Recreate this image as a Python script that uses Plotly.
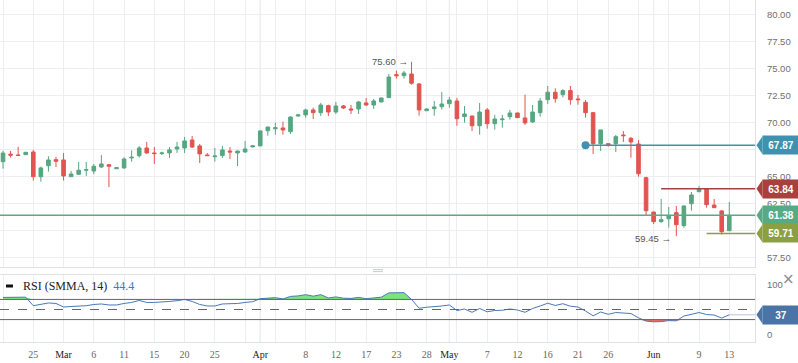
import plotly.graph_objects as go

dates = ["2019-02-20","2019-02-21","2019-02-22","2019-02-24","2019-02-25","2019-02-26","2019-02-27","2019-02-28",
         "2019-03-01","2019-03-03","2019-03-04","2019-03-05","2019-03-06","2019-03-07","2019-03-08","2019-03-10",
         "2019-03-11","2019-03-12","2019-03-13","2019-03-14","2019-03-15","2019-03-17","2019-03-18","2019-03-19",
         "2019-03-20","2019-03-21","2019-03-22","2019-03-24","2019-03-25","2019-03-26","2019-03-27","2019-03-28",
         "2019-03-29","2019-03-31","2019-04-01","2019-04-02","2019-04-03","2019-04-04","2019-04-05","2019-04-07",
         "2019-04-08","2019-04-09","2019-04-10","2019-04-11","2019-04-12","2019-04-14","2019-04-15","2019-04-16",
         "2019-04-17","2019-04-18","2019-04-21","2019-04-22","2019-04-23","2019-04-24","2019-04-25","2019-04-26",
         "2019-04-28","2019-04-29","2019-04-30","2019-05-01","2019-05-02","2019-05-03","2019-05-05","2019-05-06",
         "2019-05-07","2019-05-08","2019-05-09","2019-05-10","2019-05-12","2019-05-13","2019-05-14","2019-05-15",
         "2019-05-16","2019-05-17","2019-05-19","2019-05-20","2019-05-21","2019-05-22","2019-05-23","2019-05-24",
         "2019-05-26","2019-05-27","2019-05-28","2019-05-29","2019-05-30","2019-05-31","2019-06-02","2019-06-03",
         "2019-06-04","2019-06-05","2019-06-06","2019-06-07","2019-06-09","2019-06-10","2019-06-11","2019-06-12",
         "2019-06-13"]

open_ = [66.35,67.05,66.98,67.00,67.25,64.96,65.98,66.54,66.51,64.96,65.19,65.56,65.49,65.86,66.07,65.70,
         65.77,66.70,66.91,67.62,67.16,67.10,67.16,67.53,67.62,68.36,67.81,66.97,66.81,66.91,67.34,67.16,
         67.25,67.72,67.81,69.22,69.40,69.47,69.13,70.58,70.68,71.14,70.89,71.54,70.95,71.51,71.23,71.23,
         71.79,71.60,71.88,72.28,74.41,74.31,74.47,73.55,71.07,71.26,71.44,71.72,71.97,70.52,70.58,69.68,
         71.14,69.87,70.24,70.52,70.86,70.40,70.03,70.89,72.09,72.78,72.56,72.93,72.16,71.85,70.89,68.02,
         68.02,68.02,68.82,68.52,67.99,64.87,61.69,60.80,61.07,61.63,60.43,62.46,63.57,63.85,62.34,61.79,
         59.96]
high = [67.35,67.35,67.72,67.25,67.44,65.90,66.85,66.80,67.16,65.49,66.33,66.33,66.14,66.97,66.11,65.83,
        66.76,67.40,67.81,68.18,67.71,67.28,67.71,68.18,68.64,68.73,67.99,67.16,67.62,67.81,67.71,67.36,
        68.27,67.90,69.22,69.58,69.96,70.06,70.52,70.77,71.26,71.35,71.79,71.63,71.88,71.60,71.60,71.97,
        72.25,72.16,72.27,74.47,74.78,74.75,75.60,73.61,71.30,71.97,72.80,72.34,72.25,71.51,70.60,71.79,
        71.32,70.68,70.68,71.14,70.88,72.56,71.60,72.25,73.36,73.15,73.06,73.36,72.53,72.06,70.95,69.30,
        68.03,68.82,69.19,68.64,68.36,64.96,61.72,62.90,62.16,62.25,62.30,63.55,64.10,63.87,62.90,61.88,
        62.62]
low = [65.70,66.72,66.90,66.98,64.60,64.50,65.43,65.86,64.60,64.96,65.12,65.03,65.19,65.77,64.00,65.68,
       65.70,66.35,66.72,67.07,66.14,66.97,66.70,67.16,67.16,67.62,66.23,66.88,66.35,66.70,66.60,65.95,
       67.16,67.68,67.80,68.76,68.85,68.85,68.92,70.52,70.43,70.30,70.58,70.58,70.77,71.23,70.77,70.77,
       71.51,71.23,71.86,72.25,74.04,74.04,73.48,70.61,71.05,70.61,71.17,71.35,69.68,69.96,69.19,68.85,
       69.41,69.31,69.50,70.24,70.41,69.75,69.94,70.52,71.69,71.81,72.31,71.63,71.63,70.43,67.06,67.34,
       67.74,67.25,68.18,66.72,64.96,61.42,60.58,60.70,60.24,59.45,60.24,61.81,63.55,62.09,62.07,59.60,
       59.95]
close = [67.15,66.95,66.92,67.22,64.96,65.77,66.51,66.39,65.03,65.21,65.56,65.62,65.93,66.14,65.93,65.80,
         66.60,66.76,67.62,67.16,67.10,67.16,67.44,67.71,68.27,67.71,67.07,66.91,66.88,67.44,67.25,67.34,
         67.53,67.81,69.20,69.56,69.50,69.29,70.49,70.68,71.14,70.89,71.60,70.95,71.51,71.32,71.14,71.88,
         71.60,71.97,72.25,74.19,74.31,74.56,73.61,71.14,71.23,71.42,71.69,72.06,70.33,70.77,69.68,70.95,
         69.87,70.30,70.30,70.86,70.43,69.94,70.95,71.97,72.78,72.19,72.93,72.09,72.09,70.89,68.02,69.29,
         67.90,68.67,68.76,68.18,65.24,61.81,60.80,60.98,61.35,60.52,62.25,63.27,63.85,62.37,62.09,59.87,
         61.38]
rsi = [74.0,74.0,74.0,74.5,57.5,61.0,63.0,62.0,55.0,56.0,57.0,57.5,60.0,61.0,59.0,59.0,
       62.0,64.0,68.0,64.0,64.0,64.5,66.0,67.5,70.0,66.0,60.0,57.0,57.0,61.0,61.0,62.0,
       64.0,65.5,71.5,73.0,73.5,71.0,76.0,77.0,79.5,76.5,79.5,73.0,75.0,72.5,72.0,74.0,
       71.5,73.0,74.5,83.0,83.0,83.5,70.0,52.5,54.5,55.5,57.0,59.0,48.0,51.0,44.5,52.0,
       45.5,48.0,48.5,51.0,49.0,44.5,52.0,57.0,62.5,58.0,61.5,56.5,55.0,47.0,37.5,45.0,
       40.5,44.0,43.5,42.0,33.5,27.0,25.5,26.0,28.0,27.5,37.0,41.0,44.0,40.0,39.0,33.0,
       39.5]

tick_dates = ["2019-02-20","2019-02-25","2019-03-01","2019-03-06","2019-03-11","2019-03-15","2019-03-20",
              "2019-03-25","2019-03-29","2019-04-01","2019-04-03","2019-04-08","2019-04-12","2019-04-17",
              "2019-04-23","2019-04-28","2019-05-01","2019-05-02","2019-05-07","2019-05-12","2019-05-16",
              "2019-05-21","2019-05-26","2019-05-30","2019-06-02","2019-06-04","2019-06-09","2019-06-13"]
tick_labels = ["","25","Mar","6","11","15","20","25","","Apr","","8","12","17","23","28","May","","7","12",
               "16","21","26","","Jun","","9","13"]
month_dates = ["2019-03-01","2019-04-01","2019-05-01","2019-06-02"]

price_ticks = [57.5, 60, 62.5, 65, 67.5, 70, 72.5, 75, 77.5, 80]
price_tick_labels = ["57.50", "", "62.50", "65.00", "", "70.00", "72.50", "75.00", "77.50", "80.00"]

level_values = [67.87, 63.84, close[-1], 59.71]
level_labels = ["67.87", "63.84", "61.38", "59.71"]
level_start = ["2019-05-22", "2019-06-03", None, "2019-06-10"]
level_colors = ["#3f92ad", "#a8403e", "#5aa985", "#8c9f43"]
rsi_label = "37"
rsi_title_value = "44.4"

UP = "#56a680"
DOWN = "#e25450"
GRID = "#eceef1"
MONTH = "#d7dadd"
BORDER = "#dfe2e5"

n = len(dates)
x = list(range(n))
pos = {d: i for i, d in enumerate(dates)}
XMIN, XMAX = -0.40, 99.4
MAIN_DOM = [0.2193, 1.0]
RSI_DOM = [0.0, 0.1959]

fig = go.Figure()

# RSI fills
fig.add_trace(go.Scatter(x=x, y=[70] * n, mode="lines", line=dict(width=0), xaxis="x2", yaxis="y2",
                         hoverinfo="skip", showlegend=False))
fig.add_trace(go.Scatter(x=x, y=[max(v, 70) for v in rsi], mode="lines", line=dict(width=0),
                         fill="tonexty", fillcolor="#7fe27f", xaxis="x2", yaxis="y2",
                         hoverinfo="skip", showlegend=False))
fig.add_trace(go.Scatter(x=x, y=[30] * n, mode="lines", line=dict(width=0), xaxis="x2", yaxis="y2",
                         hoverinfo="skip", showlegend=False))
fig.add_trace(go.Scatter(x=x, y=[min(v, 30) for v in rsi], mode="lines", line=dict(width=0),
                         fill="tonexty", fillcolor="#ee6a66", xaxis="x2", yaxis="y2",
                         hoverinfo="skip", showlegend=False))
# RSI extension
fig.add_trace(go.Scatter(x=[x[-1], XMAX], y=[rsi[-1], rsi[-1]], mode="lines",
                         line=dict(color="#b5c5dc", width=1), xaxis="x2", yaxis="y2",
                         hoverinfo="skip", showlegend=False))
# RSI line
fig.add_trace(go.Scatter(x=x, y=rsi, mode="lines", line=dict(color="#4a78b8", width=1),
                         xaxis="x2", yaxis="y2", showlegend=False))

# Candles
fig.add_trace(go.Candlestick(x=x, open=open_, high=high, low=low, close=close,
                             increasing=dict(line=dict(color=UP, width=1), fillcolor=UP),
                             decreasing=dict(line=dict(color=DOWN, width=1), fillcolor=DOWN),
                             xaxis="x", yaxis="y", showlegend=False))

# level lines
shapes = []
for v, s, c in zip(level_values, level_start, level_colors):
    x0 = XMIN if s is None else pos[s]
    shapes.append(dict(type="line", xref="x", yref="y", x0=x0, x1=XMAX, y0=v, y1=v,
                       line=dict(color=c, width=1.5), layer="above"))
# blue dot
fig.add_trace(go.Scatter(x=[pos[level_start[0]]], y=[level_values[0]], mode="markers",
                         marker=dict(color=level_colors[0], size=8), xaxis="x", yaxis="y",
                         showlegend=False))

# month lines
for d in month_dates:
    for yr in ["y domain", "y2 domain"]:
        shapes.append(dict(type="line", xref="x", yref=yr, x0=pos[d], x1=pos[d], y0=0, y1=1,
                           line=dict(color=MONTH, width=1), layer="below"))

# RSI levels
for lv, dash in [(70, "solid"), (50, "dash"), (30, "solid")]:
    shapes.append(dict(type="line", xref="x2", yref="y2", x0=XMIN, x1=XMAX, y0=lv, y1=lv,
                       line=dict(color="#666666", width=1, dash=dash), layer="above"))

# badges pointer triangles
annotations = []
for v, lab, c in zip(level_values, level_labels, level_colors):
    shapes.append(dict(type="path", xref="paper", yref="y", xsizemode="pixel", ysizemode="pixel",
                       xanchor=1, yanchor=v, path="M 1.5,0 L 7.5,9 L 7.5,-9 Z",
                       fillcolor=c, line=dict(width=0), layer="above"))
    annotations.append(dict(xref="paper", yref="y", x=1, y=v, xanchor="left", yanchor="middle",
                            xshift=7, text="<b>%s</b>" % lab, showarrow=False, bgcolor=c,
                            width=36, height=18, borderpad=0,
                            font=dict(family="Liberation Sans", size=10, color="white")))
# RSI badge
shapes.append(dict(type="path", xref="paper", yref="y2", xsizemode="pixel", ysizemode="pixel",
                   xanchor=1, yanchor=rsi[-1], path="M 1.5,0 L 7.5,9 L 7.5,-9 Z",
                   fillcolor="#4a73a6", line=dict(width=0), layer="above"))
annotations.append(dict(xref="paper", yref="y2", x=1, y=rsi[-1], xanchor="left", yanchor="middle",
                        xshift=7, text="<b>%s</b>" % rsi_label, showarrow=False, bgcolor="#4a73a6",
                        width=36, height=18, borderpad=0,
                        font=dict(family="Liberation Sans", size=10, color="white")))

# high / low labels
hi_i = max(range(n), key=lambda i: high[i])
lo_i = min(range(n), key=lambda i: low[i])
annotations.append(dict(xref="x", yref="y", x=hi_i, y=high[hi_i], xanchor="right", yanchor="middle",
                        xshift=-2, text="%.2f →" % high[hi_i], showarrow=False,
                        font=dict(family="Liberation Sans", size=9.5, color="#555555")))
annotations.append(dict(xref="x", yref="y", x=lo_i, y=low[lo_i], xanchor="right", yanchor="middle",
                        xshift=-3, yshift=-2, text="%.2f →" % low[lo_i], showarrow=False,
                        font=dict(family="Liberation Sans", size=9.5, color="#555555")))

# RSI title
annotations.append(dict(xref="paper", yref="paper", x=0, y=1 - 286 / 342, xanchor="left", yanchor="middle",
                        xshift=21, showarrow=False,
                        text="<span style='color:#222222'>RSI (SMMA, 14)</span>  "
                             "<span style='color:#4a78b8'>%s</span>" % rsi_title_value,
                        font=dict(family="Liberation Serif", size=12)))
shapes.append(dict(type="rect", xref="paper", yref="paper", x0=6 / 755, x1=13 / 755,
                   y0=1 - 287.5 / 342, y1=1 - 284.5 / 342, fillcolor="#111111", line=dict(width=0)))
# close cross
annotations.append(dict(xref="paper", yref="paper", x=1, y=1 - 279 / 342, xanchor="center",
                        yanchor="middle", xshift=33, text="×", showarrow=False,
                        font=dict(family="DejaVu Sans", size=15, color="#8a8a8a")))
# panel handle
for yy in (269.6, 271.6):
    shapes.append(dict(type="line", xref="paper", yref="paper", x0=373 / 755, x1=383 / 755,
                       y0=1 - yy / 342, y1=1 - yy / 342, line=dict(color="#c9cbcd", width=1)))

tick_pos = [pos[d] for d in tick_dates]
tick_text = []
for d, lab in zip(tick_dates, tick_labels):
    if d in month_dates:
        tick_text.append("<span style='color:#222222'>%s</span>" % lab)
    else:
        tick_text.append(lab)

fig.update_layout(
    width=798, height=363,
    margin=dict(l=0, r=43, t=0, b=21),
    paper_bgcolor="white", plot_bgcolor="white",
    showlegend=False, hovermode=False,
    boxgap=0.32,
    shapes=shapes, annotations=annotations,
    xaxis=dict(domain=[0, 1], range=[XMIN, XMAX], anchor="y", showticklabels=False,
               tickmode="array", tickvals=tick_pos, showgrid=True, gridcolor=GRID, gridwidth=1,
               zeroline=False, showline=True, linecolor=BORDER, linewidth=1,
               rangeslider=dict(visible=False), fixedrange=True),
    yaxis=dict(domain=MAIN_DOM, range=[56.6, 81.32], side="right", anchor="x",
               tickmode="array", tickvals=price_ticks, ticktext=price_tick_labels,
               showgrid=True, gridcolor=GRID, zeroline=False,
               showline=True, linecolor=BORDER, ticks="outside", ticklen=9, tickcolor="rgba(0,0,0,0)",
               tickfont=dict(family="Liberation Sans", size=9.5, color="#707070")),
    xaxis2=dict(domain=[0, 1], range=[XMIN, XMAX], anchor="y2", matches="x",
                tickmode="array", tickvals=tick_pos, ticktext=tick_text,
                showgrid=True, gridcolor=GRID, zeroline=False, showline=True, mirror=True,
                linecolor=BORDER, ticks="outside", ticklen=3, tickcolor="rgba(0,0,0,0)",
                tickfont=dict(family="Liberation Serif", size=10, color="#666666")),
    yaxis2=dict(domain=RSI_DOM, range=[-14.5, 118.5], side="right", anchor="x2",
                tickmode="array", tickvals=[0, 100], showgrid=False, zeroline=False,
                showline=True, linecolor=BORDER, ticks="outside", ticklen=9, tickcolor="rgba(0,0,0,0)",
                tickfont=dict(family="Liberation Sans", size=9.5, color="#707070")),
)

fig.write_html("out.html", config={"displayModeBar": False},
               post_script="document.body.style.margin='0px';")
